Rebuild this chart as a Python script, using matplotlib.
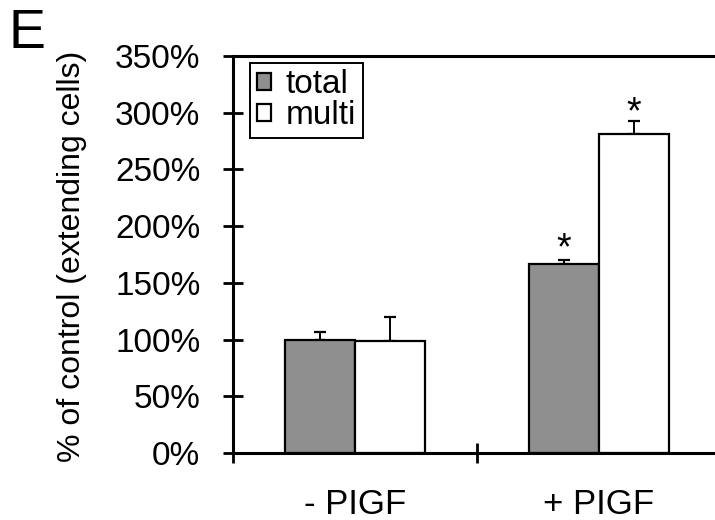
import numpy as np
import matplotlib
matplotlib.use("Agg")
import matplotlib.pyplot as plt
from matplotlib.ticker import FuncFormatter

plt.rcParams["font.family"] = ["Liberation Sans", "DejaVu Sans"]

groups = ["- PIGF", "+ PIGF"]
total = [100, 167]
multi = [99, 281]
total_err = [7, 3]
multi_err = [21, 12]
signif = [False, True]

fig = plt.figure(figsize=(7.15, 5.2), dpi=100)
ax = fig.add_axes([0.3259, 0.1288, 0.6825, 0.7635])

x = np.arange(len(groups))
w = 0.287
gray = "#8f8f8f"

ax.bar(x - w / 2, total, w, color=gray, edgecolor="black", linewidth=1.6, label="total", zorder=2)
ax.bar(x + w / 2, multi, w, color="white", edgecolor="black", linewidth=1.6, label="multi", zorder=2)

ax.errorbar(x - w / 2, total, yerr=[np.zeros(len(x)), total_err], fmt="none",
            ecolor="black", elinewidth=1.4, capsize=4.5, capthick=1.6, zorder=1)
ax.errorbar(x + w / 2, multi, yerr=[np.zeros(len(x)), multi_err], fmt="none",
            ecolor="black", elinewidth=1.4, capsize=4.5, capthick=1.6, zorder=1)

for i in range(len(groups)):
    if signif[i]:
        ax.annotate("*", (x[i] - w / 2, total[i] + total_err[i]), xytext=(0, 8),
                    textcoords="offset points", ha="center", va="center", fontsize=27)
        ax.annotate("*", (x[i] + w / 2, multi[i] + multi_err[i]), xytext=(0, 5),
                    textcoords="offset points", ha="center", va="center", fontsize=27)

ax.set_ylim(0, 350)
ax.set_xlim(-0.5, 1.5)
ax.set_yticks(np.arange(0, 351, 50))
ax.yaxis.set_major_formatter(FuncFormatter(lambda v, p: f"{v:.0f}%"))

# category boundaries as ticks, labels at centres
ax.set_xticks([-0.5, 0.5, 1.5])
ax.set_xticklabels([])
ax.set_xticks(x, minor=True)
ax.set_xticklabels(groups, minor=True)
ax.tick_params(axis="x", which="minor", length=0, pad=25, labelsize=25)
ax.tick_params(axis="both", which="major", direction="inout", length=15, width=2)
ax.tick_params(axis="y", labelsize=24, pad=16)

for s in ["left", "bottom", "top"]:
    ax.spines[s].set_linewidth(2.2)
ax.spines["right"].set_visible(False)

fig.text(72 / 715, 1 - 256 / 520, "% of control (extending cells)", fontsize=23,
         rotation=90, ha="center", va="center")

leg = ax.legend(loc="upper left", bbox_to_anchor=(0.035, 0.983), fontsize=24,
                handlelength=0.42, handleheight=0.42, handletextpad=0.45,
                borderpad=0.2, labelspacing=0.0, fancybox=False, framealpha=1,
                edgecolor="black", borderaxespad=0)
leg.get_frame().set_linewidth(1.4)

fig.text(0.012, 0.985, "E", fontsize=40, va="top", ha="left")

fig.savefig("out.png", dpi=100)
